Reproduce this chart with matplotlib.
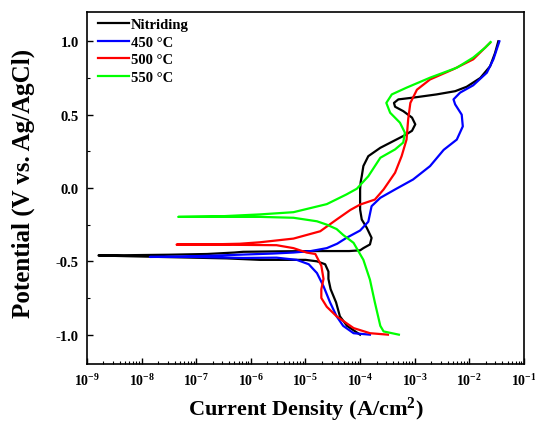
import numpy as np
import matplotlib
matplotlib.use('Agg')
import matplotlib.pyplot as plt
from matplotlib.ticker import LogLocator, MultipleLocator

plt.rcParams['font.family'] = 'Liberation Serif'
plt.rcParams['font.weight'] = 'bold'
plt.rcParams['mathtext.fontset'] = 'custom'
plt.rcParams['mathtext.rm'] = 'Liberation Serif:bold'
plt.rcParams['mathtext.bf'] = 'Liberation Serif:bold'
plt.rcParams['mathtext.it'] = 'Liberation Serif:bold'

# log10 of current density (A/cm2) and potential (V), cathodic end -> tip -> anodic end
nit_logi = [-4.0, -4.24, -4.37, -4.44, -4.54, -4.58, -4.58, -4.64, -4.79, -5.0, -5.3, -5.83, -6.44,
            -7.06, -7.66, -8.27, -8.79,
            -8.2, -7.5, -6.8, -6.3, -6.14, -5.5, -4.8, -4.2, -4.0, -3.94, -3.82, -3.79, -3.88, -3.97,
            -4.0, -4.0, -3.99, -3.97, -3.94, -3.85, -3.63, -3.39, -3.18, -3.05, -2.99, -3.05, -3.21,
            -3.36, -3.38, -3.30, -3.03, -2.60, -2.26, -2.05, -1.80, -1.62, -1.53, -1.47]
nit_pot = [-1.0, -0.94, -0.875, -0.78, -0.69, -0.62, -0.57, -0.52, -0.50, -0.49, -0.49, -0.49, -0.48,
           -0.475, -0.47, -0.465, -0.46,
           -0.458, -0.455, -0.45, -0.44, -0.435, -0.432, -0.43, -0.43, -0.425, -0.41, -0.385, -0.34,
           -0.27, -0.215, -0.147, -0.01, 0.04, 0.08, 0.15, 0.217, 0.274, 0.32, 0.36, 0.39, 0.434,
           0.48, 0.524, 0.554, 0.58, 0.604, 0.616, 0.638, 0.66, 0.69, 0.75, 0.83, 0.92, 1.0]

b450_logi = [-3.82, -4.12, -4.31, -4.43, -4.55, -4.67, -4.79, -4.94, -5.16, -5.53, -6.14, -7.05, -7.85,
             -7.3, -7.05, -6.6, -6.14, -5.6, -5.22, -4.9, -4.61, -4.42, -4.25, -4.0, -3.85, -3.79,
             -3.63, -3.36, -3.03, -2.72, -2.47, -2.23, -2.12, -2.14, -2.26, -2.29, -2.17, -1.93, -1.68,
             -1.56, -1.45]
b450_pot = [-1.0, -0.99, -0.94, -0.875, -0.78, -0.67, -0.58, -0.52, -0.49, -0.475, -0.477, -0.47, -0.47,
            -0.468, -0.465, -0.46, -0.454, -0.447, -0.44, -0.43, -0.41, -0.38, -0.34, -0.29, -0.23, -0.124,
            -0.067, -0.01, 0.058, 0.149, 0.26, 0.33, 0.42, 0.50, 0.57, 0.604, 0.65, 0.70, 0.786,
            0.877, 1.0]

r500_logi = [-3.49, -3.82, -4.12, -4.43, -4.61, -4.71, -4.71, -4.67, -4.71, -4.82, -4.98, -5.22, -5.53,
             -6.14, -7.05, -7.36,
             -6.8, -6.2, -5.83, -5.22, -4.73, -4.43, -4.18, -4.0, -3.73, -3.57, -3.36,
             -3.24, -3.15, -3.12, -3.08, -2.96, -2.72, -2.29, -1.93, -1.62]
r500_pot = [-1.0, -0.99, -0.955, -0.875, -0.81, -0.75, -0.69, -0.62, -0.53, -0.45, -0.44, -0.41, -0.39,
            -0.388, -0.386, -0.386,
            -0.385, -0.38, -0.37, -0.345, -0.295, -0.215, -0.15, -0.113, -0.079, -0.01, 0.104,
            0.217, 0.33, 0.468, 0.58, 0.67, 0.74, 0.81, 0.877, 0.99]

g550_logi = [-3.29, -3.57, -3.63, -3.73, -3.82, -3.94, -4.12, -4.31, -4.43, -4.61, -4.79, -5.22, -5.83,
             -6.5, -7.33,
             -6.5, -5.83, -5.22, -4.61, -4.25, -4.06, -3.85, -3.63, -3.36, -3.21, -3.18, -3.27, -3.45,
             -3.52, -3.42, -3.15, -2.72, -2.23, -1.93, -1.71, -1.61]
g550_pot = [-1.0, -0.978, -0.94, -0.78, -0.625, -0.49, -0.374, -0.32, -0.28, -0.25, -0.227, -0.203, -0.197,
            -0.197, -0.197,
            -0.192, -0.18, -0.165, -0.11, -0.044, -0.005, 0.08, 0.206, 0.263, 0.31, 0.377, 0.445, 0.513,
            0.58, 0.638, 0.684, 0.752, 0.82, 0.889, 0.957, 0.995]

series = [('Nitriding', nit_logi, nit_pot, 'black'),
          ('450 \u00b0C', b450_logi, b450_pot, 'blue'),
          ('500 \u00b0C', r500_logi, r500_pot, 'red'),
          ('550 \u00b0C', g550_logi, g550_pot, 'lime')]

fig = plt.figure(figsize=(5.35, 4.27), dpi=100)
ax = fig.add_axes([0.1626, 0.1452, 0.8168, 0.8244])

for name, logi, pot, col in series:
    ax.plot(10 ** np.array(logi), pot, color=col, lw=1.6, label=name)

ax.set_xscale('log')
ax.set_xlim(1e-9, 1e-1)
ax.set_ylim(-1.2, 1.2)
ax.xaxis.set_major_locator(LogLocator(base=10, numticks=20))
ax.xaxis.set_minor_locator(LogLocator(base=10, subs=np.arange(2, 10), numticks=20))
ax.yaxis.set_minor_locator(MultipleLocator(0.25))
ax.set_yticks([-1.0, -0.5, 0.0, 0.5, 1.0])
ax.set_yticklabels(['-1.0', '-0.5', '0.0', '0.5', '1.0'])

ax.tick_params(which='both', direction='in', top=False, right=False, labelsize=10.5, pad=6)
ax.tick_params(axis='x', labelsize=10)
ax.tick_params(which='major', length=4, width=1)
ax.tick_params(which='minor', length=2, width=0.8)
for s in ax.spines.values():
    s.set_linewidth(1.2)

ax.set_xlabel('Current Density (A/cm$^2$)', fontsize=16, fontweight='bold', labelpad=5)
ax.set_ylabel('Potential (V vs. Ag/AgCl)', fontsize=18, fontweight='bold')
ax.yaxis.set_label_coords(-0.118, 0.515)

ax.legend(loc='upper left', frameon=False, fontsize=10.5, handlelength=2.15, handletextpad=0.1,
          labelspacing=0.3, borderaxespad=0.0, bbox_to_anchor=(0.012, 1.0))

fig.savefig('out.png', dpi=100)
